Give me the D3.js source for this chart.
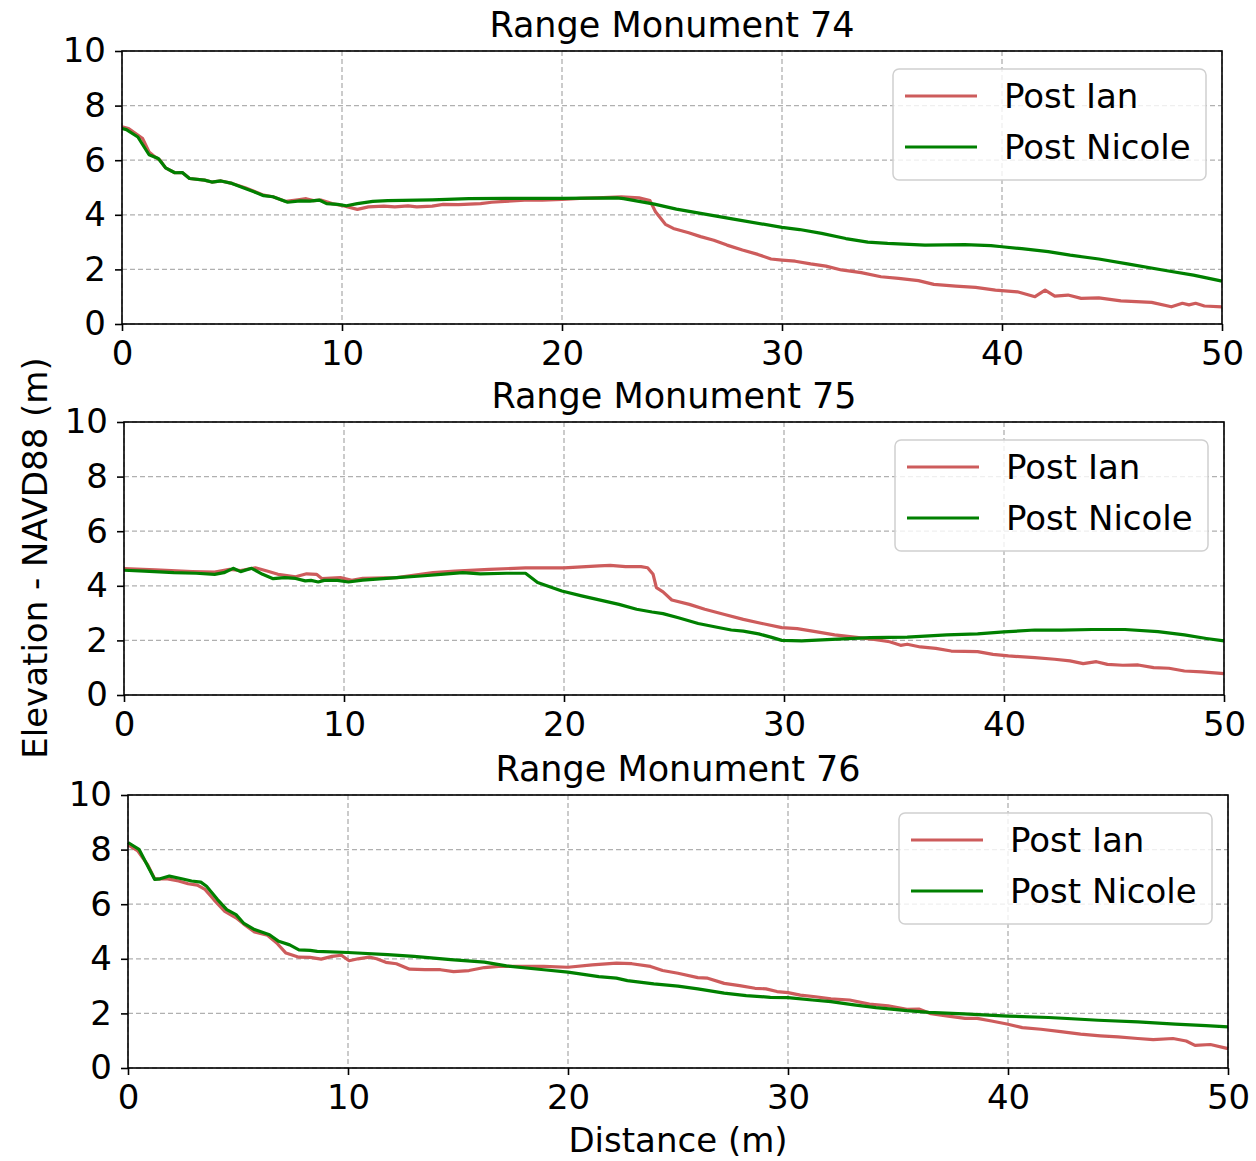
<!DOCTYPE html>
<html>
<head>
<meta charset="utf-8">
<script src="https://cdn.jsdelivr.net/npm/d3@7"></script>
<style>
  body { margin: 0; background: #fff; }
  svg { display: block; font-family: "DejaVu Sans", sans-serif; }
</style>
</head>
<body>
<svg id="root" width="1256" height="1161"></svg>
<script>
// distance (m), elevation (m NAVD88)
const ianRM74 = [[0,7.22],[0.3,7.16],[0.94,6.79],[1.23,6.3],[1.5,6.12],[1.73,6.0],[1.98,5.72],[2.4,5.54],[2.74,5.55],[3.07,5.33],[3.75,5.27],[4.08,5.2],[4.5,5.24],[5.0,5.15],[5.6,4.99],[6.0,4.86],[6.44,4.72],[6.86,4.66],[7.45,4.49],[8.0,4.55],[8.37,4.59],[8.7,4.52],[9.04,4.54],[9.55,4.41],[10.05,4.33],[10.7,4.2],[11.2,4.29],[11.9,4.32],[12.4,4.29],[13.0,4.33],[13.4,4.29],[14.1,4.32],[14.6,4.38],[15.3,4.37],[16.3,4.41],[16.8,4.46],[17.4,4.49],[18.3,4.54],[19.1,4.54],[20.0,4.56],[20.8,4.6],[21.6,4.62],[22.7,4.66],[23.5,4.62],[24.0,4.52],[24.25,4.11],[24.7,3.65],[25.06,3.5],[25.76,3.34],[26.3,3.2],[26.9,3.07],[27.5,2.89],[28.2,2.71],[28.9,2.55],[29.5,2.38],[30,2.34],[30.6,2.3],[31.3,2.2],[32.0,2.12],[32.7,1.98],[33.6,1.88],[34.5,1.73],[35.3,1.67],[36.2,1.59],[36.9,1.45],[37.9,1.39],[38.8,1.34],[39.7,1.24],[40.7,1.18],[41.5,1.0],[41.96,1.24],[42.4,1.02],[43.0,1.06],[43.6,0.94],[44.4,0.96],[45.4,0.85],[46.8,0.79],[47.7,0.63],[48.2,0.76],[48.5,0.7],[48.8,0.76],[49.2,0.66],[50,0.63]];
const nicoleRM74 = [[0,7.16],[0.2,7.12],[0.72,6.85],[1.23,6.2],[1.65,6.06],[1.98,5.72],[2.4,5.54],[2.74,5.55],[3.07,5.33],[3.75,5.27],[4.08,5.2],[4.5,5.24],[5.0,5.15],[5.6,4.96],[6.0,4.84],[6.44,4.7],[6.86,4.66],[7.53,4.46],[8.1,4.51],[8.54,4.5],[8.96,4.54],[9.3,4.41],[9.8,4.38],[10.2,4.33],[10.7,4.41],[11.4,4.49],[12.07,4.52],[14.1,4.55],[15.76,4.59],[17.44,4.6],[20,4.6],[22.5,4.62],[22.8,4.59],[23.5,4.49],[24.2,4.39],[25.2,4.21],[26.3,4.05],[27.8,3.84],[30,3.54],[30.8,3.46],[31.8,3.32],[32.9,3.13],[33.9,3.0],[34.8,2.95],[36.5,2.89],[38.3,2.91],[39.5,2.87],[40,2.83],[40.9,2.76],[42.1,2.65],[43.1,2.52],[44.4,2.38],[45.7,2.2],[47.5,1.95],[48.7,1.79],[50,1.57]];

const ianRM75 = [[0,4.63],[1.43,4.58],[3.1,4.52],[4.12,4.5],[4.8,4.6],[5.3,4.56],[5.97,4.66],[6.5,4.54],[7.0,4.42],[7.8,4.33],[8.3,4.44],[8.75,4.42],[9.0,4.26],[9.84,4.3],[10.35,4.2],[10.85,4.27],[12.4,4.3],[14.05,4.48],[15.05,4.54],[16.6,4.6],[18.25,4.66],[20,4.66],[21.6,4.73],[22.1,4.75],[22.8,4.7],[23.5,4.7],[23.8,4.66],[24.05,4.42],[24.2,3.93],[24.5,3.78],[24.9,3.48],[25.7,3.32],[26.4,3.14],[27.3,2.95],[28.15,2.77],[29.0,2.62],[29.9,2.47],[30.6,2.43],[31.5,2.31],[32.3,2.2],[33.2,2.12],[34.1,2.04],[34.8,1.95],[35.3,1.82],[35.6,1.86],[36.2,1.76],[36.9,1.71],[37.6,1.61],[38.8,1.59],[39.5,1.49],[40.2,1.43],[41.4,1.37],[42.3,1.31],[43.0,1.25],[43.6,1.15],[44.2,1.22],[44.7,1.12],[45.4,1.09],[46.1,1.1],[46.8,1.0],[47.5,0.98],[48.2,0.88],[49.0,0.85],[50,0.78]];
const nicoleRM75 = [[0,4.57],[0.93,4.54],[2.27,4.48],[3.28,4.46],[4.12,4.42],[4.54,4.48],[4.96,4.64],[5.3,4.52],[5.8,4.64],[6.3,4.42],[6.78,4.26],[7.3,4.3],[7.8,4.27],[8.24,4.18],[8.5,4.2],[8.83,4.14],[9.1,4.2],[9.7,4.2],[10.2,4.14],[10.85,4.21],[12.4,4.3],[13.5,4.36],[14.4,4.42],[15.4,4.48],[16.2,4.44],[17.4,4.46],[18.25,4.46],[18.8,4.12],[19.9,3.81],[20.8,3.63],[22.5,3.32],[23.3,3.14],[24.0,3.04],[24.5,2.98],[25.2,2.83],[26.1,2.62],[26.9,2.49],[27.6,2.38],[28.15,2.34],[28.85,2.24],[29.4,2.12],[29.9,2.0],[30.8,1.98],[32.2,2.04],[33.9,2.1],[35.6,2.12],[37.4,2.2],[38.8,2.24],[40,2.31],[41.4,2.38],[42.6,2.38],[44.0,2.4],[45.5,2.4],[47.0,2.32],[48.2,2.2],[49.2,2.07],[50,1.98]];

const ianRM76 = [[0,8.17],[0.45,7.95],[0.88,7.46],[1.21,6.93],[1.8,6.93],[2.3,6.85],[2.73,6.75],[3.15,6.7],[3.5,6.54],[3.9,6.17],[4.4,5.74],[4.91,5.5],[5.25,5.28],[5.75,4.98],[6.34,4.86],[6.76,4.58],[7.18,4.21],[7.77,4.06],[8.28,4.05],[8.78,3.99],[9.28,4.09],[9.7,4.13],[10.05,3.93],[10.46,4.0],[10.97,4.06],[11.3,4.0],[11.72,3.87],[12.2,3.82],[12.8,3.62],[13.5,3.6],[14.2,3.6],[14.8,3.53],[15.5,3.57],[16.2,3.68],[16.85,3.72],[17.7,3.72],[18.9,3.72],[20,3.69],[21.1,3.78],[22.2,3.84],[22.9,3.82],[23.75,3.72],[24.3,3.57],[25.0,3.47],[25.9,3.31],[26.35,3.29],[27.1,3.1],[27.8,3.02],[28.5,2.92],[29.0,2.9],[29.5,2.8],[30,2.76],[30.56,2.67],[31.25,2.61],[31.95,2.53],[32.8,2.49],[33.7,2.34],[34.55,2.28],[35.4,2.15],[35.95,2.16],[36.5,1.99],[37.2,1.91],[38.05,1.82],[38.6,1.82],[39.25,1.72],[39.95,1.61],[40.65,1.48],[41.5,1.42],[42.4,1.33],[43.3,1.24],[44.2,1.18],[45.0,1.14],[45.9,1.08],[46.6,1.04],[47.5,1.08],[48.1,0.99],[48.5,0.83],[49.2,0.86],[50,0.71]];
const nicoleRM76 = [[0,8.26],[0.5,8.01],[1.21,6.91],[1.46,6.93],[1.88,7.03],[2.39,6.94],[2.89,6.85],[3.31,6.81],[3.57,6.66],[4.07,6.17],[4.49,5.8],[4.91,5.62],[5.25,5.31],[5.75,5.07],[6.43,4.88],[6.85,4.64],[7.35,4.51],[7.77,4.33],[8.28,4.31],[8.6,4.27],[10,4.23],[11.8,4.15],[13.0,4.09],[14.67,3.97],[16.2,3.88],[17.2,3.74],[18.9,3.6],[20,3.51],[21.4,3.35],[22.2,3.29],[22.7,3.2],[23.9,3.08],[25.0,3.0],[25.9,2.9],[27.1,2.74],[28.1,2.65],[29.2,2.59],[30,2.58],[31.1,2.49],[31.95,2.43],[33.0,2.31],[34.0,2.21],[35.4,2.1],[36.4,2.04],[38.0,1.98],[40,1.9],[41.85,1.85],[44.1,1.75],[45.9,1.69],[47.6,1.61],[49.0,1.55],[50,1.51]];

const monuments = ['Range Monument 74', 'Range Monument 75', 'Range Monument 76'];
const seriesNames = ['Post Ian', 'Post Nicole'];
const xTicks = [0, 10, 20, 30, 40, 50];
const yTicks = [0, 2, 4, 6, 8, 10];

const profiles = [
  [ianRM74, nicoleRM74],
  [ianRM75, nicoleRM75],
  [ianRM76, nicoleRM76],
];

const colors = ['#cd5c5c', '#008000'];
const W = 1100, H = 273;
// top-left corner of each axes box
const panels = [
  { left: 122, top: 51 },
  { left: 124, top: 422 },
  { left: 128, top: 795 },
];

const svg = d3.select('#root');

const x = d3.scaleLinear().domain([0, 50]).range([0, W]);
const y = d3.scaleLinear().domain([0, 10]).range([H, 0]);

const line = d3.line().x(d => x(d[0])).y(d => y(d[1]));

panels.forEach((p, i) => {
  const g = svg.append('g').attr('transform', `translate(${p.left},${p.top})`);

  // grid
  g.append('g')
    .selectAll('line.vg')
    .data(xTicks)
    .join('line')
    .attr('x1', d => x(d)).attr('x2', d => x(d))
    .attr('y1', 0).attr('y2', H)
    .attr('stroke', '#b0b0b0')
    .attr('stroke-width', 1.3)
    .attr('stroke-dasharray', '5,3');
  g.append('g')
    .selectAll('line.hg')
    .data(yTicks)
    .join('line')
    .attr('x1', 0).attr('x2', W)
    .attr('y1', d => y(d)).attr('y2', d => y(d))
    .attr('stroke', '#b0b0b0')
    .attr('stroke-width', 1.3)
    .attr('stroke-dasharray', '5,3');

  // profiles
  profiles[i].forEach((s, k) => {
    g.append('path')
      .datum(s)
      .attr('fill', 'none')
      .attr('stroke', colors[k])
      .attr('stroke-width', 3.2)
      .attr('stroke-linejoin', 'round')
      .attr('d', line);
  });

  // axes
  const xAxis = g.append('g')
    .attr('transform', `translate(0,${H})`)
    .call(d3.axisBottom(x).tickValues(xTicks).tickSize(7).tickPadding(10).tickSizeOuter(0));
  const yAxis = g.append('g')
    .call(d3.axisLeft(y).tickValues(yTicks).tickSize(7).tickPadding(9).tickFormat(d3.format('d')).tickSizeOuter(0));
  [xAxis, yAxis].forEach(a => {
    a.select('.domain').remove();
    a.selectAll('line').attr('stroke', '#000').attr('stroke-width', 1.6);
    a.selectAll('text').attr('font-size', 34).attr('fill', '#000')
      .attr('font-family', '"DejaVu Sans", sans-serif');
  });

  // frame
  g.append('rect')
    .attr('width', W).attr('height', H)
    .attr('fill', 'none')
    .attr('stroke', '#000')
    .attr('stroke-width', 1.6);

  // title
  g.append('text')
    .attr('x', W / 2).attr('y', -14)
    .attr('text-anchor', 'middle')
    .attr('font-size', 35)
    .text(monuments[i]);

  // legend
  const lg = g.append('g').attr('transform', `translate(${W - 329},18)`);
  lg.append('rect')
    .attr('width', 313).attr('height', 111)
    .attr('rx', 6)
    .attr('fill', '#fff').attr('fill-opacity', 0.8)
    .attr('stroke', '#d0d0d0').attr('stroke-width', 1.5);
  seriesNames.forEach((name, k) => {
    const row = lg.append('g').attr('transform', `translate(0,${27 + k * 51})`);
    row.append('line')
      .attr('x1', 12).attr('x2', 84)
      .attr('stroke', colors[k]).attr('stroke-width', 3.2);
    row.append('text')
      .attr('x', 111).attr('y', 12)
      .attr('font-size', 34)
      .text(name);
  });
});

// shared axis labels
svg.append('text')
  .attr('x', 678).attr('y', 1152)
  .attr('text-anchor', 'middle')
  .attr('font-size', 34)
  .text('Distance (m)');

svg.append('text')
  .attr('transform', 'translate(47,558) rotate(-90)')
  .attr('text-anchor', 'middle')
  .attr('font-size', 34)
  .text('Elevation - NAVD88 (m)');
</script>
</body>
</html>
